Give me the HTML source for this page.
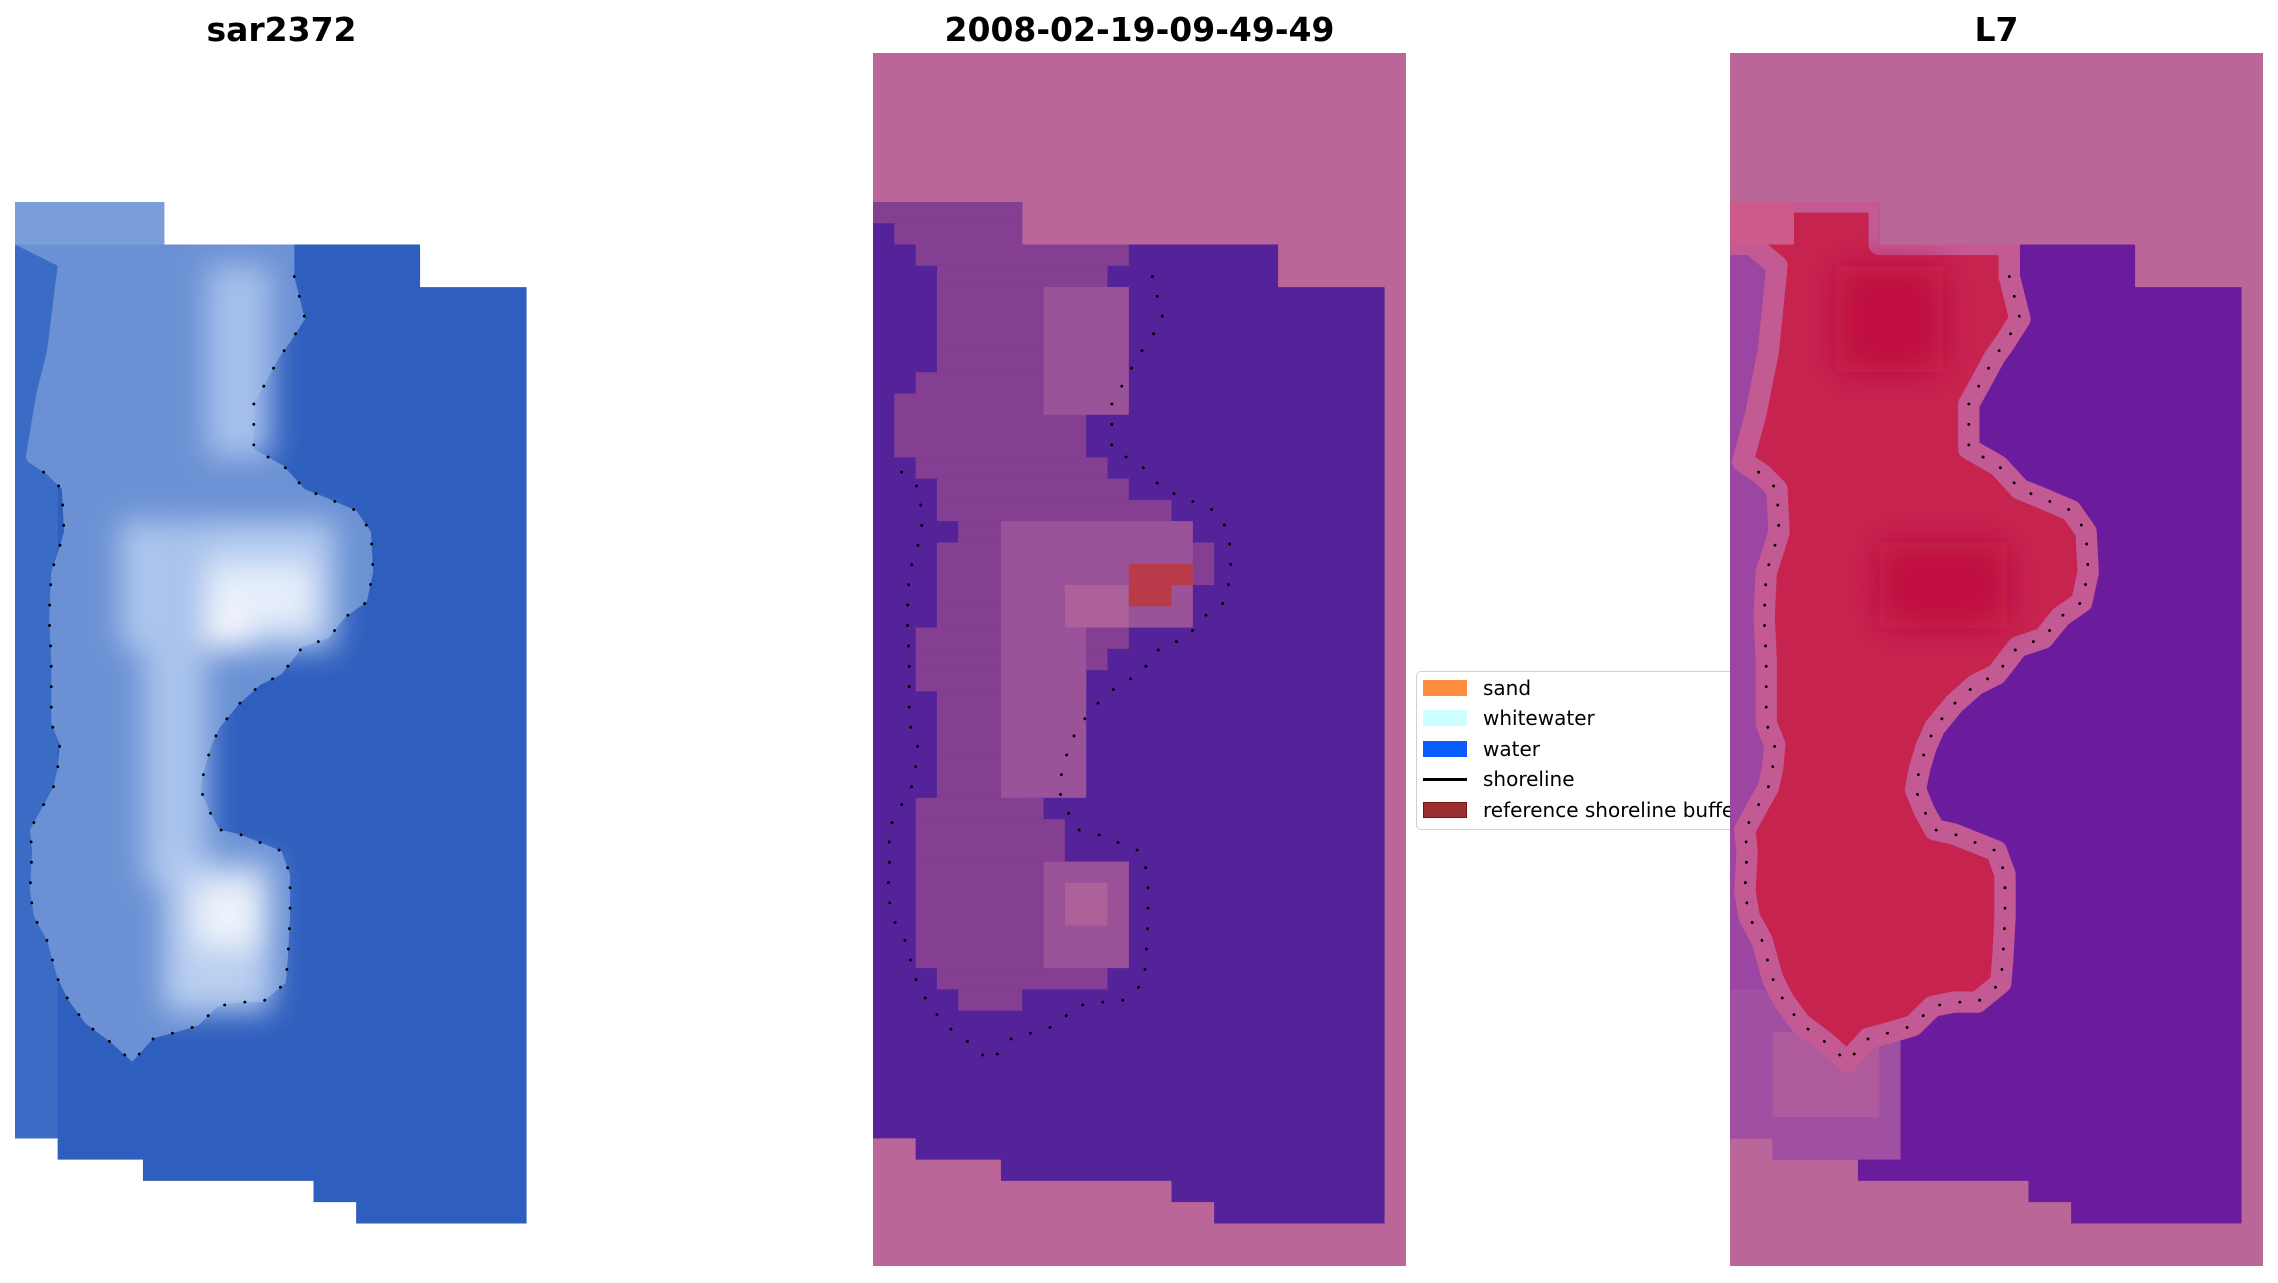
<!DOCTYPE html>
<html><head><meta charset="utf-8">
<style>
body{margin:0;width:2278px;height:1283px;background:#fff;position:relative;overflow:hidden;font-family:"DejaVu Sans","Liberation Sans",sans-serif;}
.t{position:absolute;top:13px;width:533px;text-align:center;font-weight:bold;font-size:33px;line-height:1;color:#000;}
svg.p{position:absolute;top:53px;width:533px;height:1213px;}
.leg{position:absolute;left:1416px;top:671px;width:420px;height:157px;border:1.5px solid #d0d0d0;border-radius:5px;background:#fff;}
.it{position:absolute;left:1483px;font-size:20px;line-height:1;color:#000;}
.pt{position:absolute;left:1423px;width:44px;height:16px;}
</style></head><body>

<div class="t" style="left:15px">sar2372</div>
<div class="t" style="left:873px">2008-02-19-09-49-49</div>
<div class="t" style="left:1730px">L7</div>

<svg width="0" height="0" style="position:absolute">
<defs>
<clipPath id="dr"><polygon points="0,7 7,7 7,9 19,9 19,11 24,11 24,55 16,55 16,54 14,54 14,53 6,53 6,52 2,52 2,51 0,51"/></clipPath>
<filter id="bl" x="-20%" y="-20%" width="140%" height="140%"><feGaussianBlur stdDeviation="0.7"/></filter>
</defs>
</svg>

<!-- Panel 1 -->
<svg class="p" style="left:15px" viewBox="0 0 25 57" preserveAspectRatio="none">
<defs><clipPath id="d1"><polygon points="0,7 7,7 7,9 19,9 19,11 24,11 24,55 16,55 16,54 14,54 14,53 6,53 6,52 2,52 2,51 0,51"/></clipPath>
<filter id="b1" x="-20%" y="-20%" width="140%" height="140%"><feGaussianBlur stdDeviation="0.7"/></filter></defs>
<g clip-path="url(#d1)">
<rect x="0" y="0" width="25" height="57" fill="#2f5fbe"/>
<rect x="0" y="7" width="2" height="45" fill="#3a6cc6"/>
<polygon fill="#6b91d4" points="13.1,9 13.1,10.5 13.6,12.5 12.9,13.6 12.4,14.3 11.7,15.6 11.2,16.5 11.2,17.5 11.2,18.6 12.6,19.4 13.6,20.5 14.6,20.9 16,21.5 16.7,22.5 16.8,24.4 16.5,25.8 15.5,26.5 14.7,27.5 13.5,27.9 12.5,29.2 11.5,29.7 10.5,30.6 9.6,31.7 9.2,32.6 8.9,33.6 8.7,34.6 9.1,35.6 9.6,36.5 10.5,36.7 11.5,37.1 12.5,37.5 12.9,38.6 12.9,40.6 12.8,42.5 12.7,43.7 11.6,44.6 10.5,44.6 9.5,44.8 8.6,45.7 7.6,46 6.5,46.3 5.5,47.4 4.5,46.5 3.3,45.6 2.5,44.5 2,43.5 1.5,41.7 0.9,40.6 0.7,39.4 0.8,37.5 0.7,36.5 1.3,35.4 1.8,34.5 2,33.6 2.1,32.5 1.7,31.5 1.7,30.5 1.7,28.5 1.6,26.5 1.7,24.4 2,23.5 2.3,22.5 2.2,20.5 1.5,19.8 0.6,19.2 0.5,19 1,16 1.5,14 2,10 0,9 0,7 7,7 7,9"/>
<rect x="0" y="7" width="7" height="2" fill="#7a9ed8"/>
<g filter="url(#b1)">
<rect x="9" y="10" width="3" height="9" fill="#a6c0ec"/>
<rect x="5" y="22" width="10" height="6" fill="#b2cbef"/>
<rect x="6" y="22" width="3" height="17" fill="#a9c3ec"/>
<rect x="9" y="24" width="5" height="3" fill="#e6eefb"/>
<rect x="9" y="26" width="2" height="2" fill="#f4f6fd"/>
<rect x="7" y="38" width="5" height="7" fill="#b9cff0"/>
<rect x="8.5" y="39" width="3" height="3" fill="#eef3fb"/>
</g>
</g>
<polyline fill="none" stroke="#000" stroke-width="0.13" stroke-linecap="round" stroke-dasharray="0.01 0.95" points="13.1,10.5 13.6,12.5 12.9,13.6 12.4,14.3 11.7,15.6 11.2,16.5 11.2,17.5 11.2,18.6 12.6,19.4 13.6,20.5 14.6,20.9 16,21.5 16.7,22.5 16.8,24.4 16.5,25.8 15.5,26.5 14.7,27.5 13.5,27.9 12.5,29.2 11.5,29.7 10.5,30.6 9.6,31.7 9.2,32.6 8.9,33.6 8.7,34.6 9.1,35.6 9.6,36.5 10.5,36.7 11.5,37.1 12.5,37.5 12.9,38.6 12.9,40.6 12.8,42.5 12.7,43.7 11.6,44.6 10.5,44.6 9.5,44.8 8.6,45.7 7.6,46 6.5,46.3 5.5,47.4 4.5,46.5 3.3,45.6 2.5,44.5 2,43.5 1.5,41.7 0.9,40.6 0.7,39.4 0.8,37.5 0.7,36.5 1.3,35.4 1.8,34.5 2,33.6 2.1,32.5 1.7,31.5 1.7,30.5 1.7,28.5 1.6,26.5 1.7,24.4 2,23.5 2.3,22.5 2.2,20.5 1.5,19.8 0.6,19.2"/>
</svg>

<!-- Panel 2 -->
<svg class="p" style="left:873px" viewBox="0 0 25 57" preserveAspectRatio="none">
<defs><clipPath id="d2"><polygon points="0,7 7,7 7,9 19,9 19,11 24,11 24,55 16,55 16,54 14,54 14,53 6,53 6,52 2,52 2,51 0,51"/></clipPath></defs>
<rect x="0" y="0" width="25" height="57" fill="#bb6699"/>
<g clip-path="url(#d2)">
<rect x="0" y="0" width="25" height="57" fill="#54239a"/>
<g fill="#853f92">
<rect x="0" y="7" width="7" height="1"/><rect x="1" y="8" width="6" height="1"/>
<rect x="2" y="9" width="10" height="1"/><rect x="3" y="10" width="8" height="1"/>
<rect x="3" y="11" width="9" height="3"/><rect x="3" y="14" width="8" height="1"/>
<rect x="2" y="15" width="9" height="1"/><rect x="1" y="16" width="9" height="3"/>
<rect x="2" y="19" width="9" height="1"/><rect x="3" y="20" width="9" height="1"/>
<rect x="3" y="21" width="11" height="1"/><rect x="4" y="22" width="11" height="1"/>
<rect x="3" y="23" width="13" height="2"/><rect x="3" y="25" width="12" height="1"/>
<rect x="3" y="26" width="9" height="1"/><rect x="2" y="27" width="10" height="1"/>
<rect x="2" y="28" width="9" height="1"/><rect x="2" y="29" width="8" height="1"/>
<rect x="3" y="30" width="6" height="2"/><rect x="3" y="32" width="5" height="1"/>
<rect x="3" y="33" width="4" height="2"/><rect x="2" y="35" width="6" height="1"/>
<rect x="2" y="36" width="7" height="2"/><rect x="2" y="38" width="10" height="5"/>
<rect x="3" y="43" width="8" height="1"/><rect x="4" y="44" width="3" height="1"/>
</g>
<g fill="#9a5299">
<rect x="8" y="11" width="4" height="6"/>
<rect x="6" y="22" width="9" height="5"/>
<rect x="6" y="27" width="4" height="8"/>
<rect x="8" y="38" width="4" height="5"/>
</g>
<g fill="#ad6199">
<rect x="9" y="25" width="3" height="2"/>
<rect x="9" y="39" width="2" height="2"/>
</g>
<rect x="12" y="24" width="3" height="1" fill="#b93a48"/>
<rect x="12" y="25" width="2" height="1" fill="#b93a48"/>
</g>
<polyline fill="none" stroke="#000" stroke-width="0.13" stroke-linecap="round" stroke-dasharray="0.01 0.95" points="13.1,10.5 13.6,12.5 12.9,13.6 12.4,14.3 11.7,15.6 11.2,16.5 11.2,17.5 11.2,18.6 12.6,19.4 13.6,20.5 14.6,20.9 16,21.5 16.7,22.5 16.8,24.4 16.5,25.8 15.5,26.5 14.7,27.5 13.5,27.9 12.5,29.2 11.5,29.7 10.5,30.6 9.6,31.7 9.2,32.6 8.9,33.6 8.7,34.6 9.1,35.6 9.6,36.5 10.5,36.7 11.5,37.1 12.5,37.5 12.9,38.6 12.9,40.6 12.8,42.5 12.7,43.7 11.6,44.6 10.5,44.6 9.5,44.8 8.6,45.7 7.6,46 6.5,46.3 5.5,47.4 4.5,46.5 3.3,45.6 2.5,44.5 2,43.5 1.5,41.7 0.9,40.6 0.7,39.4 0.8,37.5 0.7,36.5 1.3,35.4 1.8,34.5 2,33.6 2.1,32.5 1.7,31.5 1.7,30.5 1.7,28.5 1.6,26.5 1.7,24.4 2,23.5 2.3,22.5 2.2,20.5 1.5,19.8 0.6,19.2"/>
</svg>

<!-- Legend -->
<div class="leg"></div>
<div class="pt" style="top:680px;background:#ff8c3f"></div>
<div class="pt" style="top:710px;background:#ccffff"></div>
<div class="pt" style="top:741px;background:#0a5cff"></div>
<div class="pt" style="top:778px;height:3px;background:#000"></div>
<div class="pt" style="top:802px;background:#9a3030;border:1px solid #7a1010;box-sizing:border-box"></div>
<div class="it" style="top:678px">sand</div>
<div class="it" style="top:708px">whitewater</div>
<div class="it" style="top:739px">water</div>
<div class="it" style="top:769px">shoreline</div>
<div class="it" style="top:800px">reference shoreline buffer</div>

<!-- Panel 3 -->
<svg class="p" style="left:1730px;z-index:2" viewBox="0 0 25 57" preserveAspectRatio="none">
<defs><clipPath id="d3"><polygon points="0,7 7,7 7,9 19,9 19,11 24,11 24,55 16,55 16,54 14,54 14,53 6,53 6,52 2,52 2,51 0,51"/></clipPath>
<filter id="b3" x="-20%" y="-20%" width="140%" height="140%"><feGaussianBlur stdDeviation="0.8"/></filter></defs>
<rect x="0" y="0" width="25" height="57" fill="#bb6699"/>
<g clip-path="url(#d3)">
<rect x="0" y="0" width="25" height="57" fill="#6a1c9c"/>
<rect x="0" y="9" width="2" height="43" fill="#9a46a2"/>
<rect x="0" y="44" width="8" height="8" fill="#a050a2"/>
<rect x="2" y="46" width="5" height="4" fill="#b05a9e"/>
<polygon fill="#c6244f" stroke="#c45a94" stroke-width="1.0" stroke-linejoin="round" points="13.1,9 13.1,10.5 13.6,12.5 12.9,13.6 12.4,14.3 11.7,15.6 11.2,16.5 11.2,17.5 11.2,18.6 12.6,19.4 13.6,20.5 14.6,20.9 16,21.5 16.7,22.5 16.8,24.4 16.5,25.8 15.5,26.5 14.7,27.5 13.5,27.9 12.5,29.2 11.5,29.7 10.5,30.6 9.6,31.7 9.2,32.6 8.9,33.6 8.7,34.6 9.1,35.6 9.6,36.5 10.5,36.7 11.5,37.1 12.5,37.5 12.9,38.6 12.9,40.6 12.8,42.5 12.7,43.7 11.6,44.6 10.5,44.6 9.5,44.8 8.6,45.7 7.6,46 6.5,46.3 5.5,47.4 4.5,46.5 3.3,45.6 2.5,44.5 2,43.5 1.5,41.7 0.9,40.6 0.7,39.4 0.8,37.5 0.7,36.5 1.3,35.4 1.8,34.5 2,33.6 2.1,32.5 1.7,31.5 1.7,30.5 1.7,28.5 1.6,26.5 1.7,24.4 2,23.5 2.3,22.5 2.2,20.5 1.5,19.8 0.6,19.2 1.2,17 1.8,14 2.2,10 1,9 0,9 0,7 7,7 7,9"/>
<rect x="0" y="7" width="3" height="2" fill="#cc5a8a"/>
<g filter="url(#b3)">
<rect x="5" y="10" width="5" height="5" fill="#c00a40"/>
<rect x="7" y="23" width="6" height="4" fill="#c00a40"/>
</g>
</g>
<polyline fill="none" stroke="#000" stroke-width="0.13" stroke-linecap="round" stroke-dasharray="0.01 0.95" points="13.1,10.5 13.6,12.5 12.9,13.6 12.4,14.3 11.7,15.6 11.2,16.5 11.2,17.5 11.2,18.6 12.6,19.4 13.6,20.5 14.6,20.9 16,21.5 16.7,22.5 16.8,24.4 16.5,25.8 15.5,26.5 14.7,27.5 13.5,27.9 12.5,29.2 11.5,29.7 10.5,30.6 9.6,31.7 9.2,32.6 8.9,33.6 8.7,34.6 9.1,35.6 9.6,36.5 10.5,36.7 11.5,37.1 12.5,37.5 12.9,38.6 12.9,40.6 12.8,42.5 12.7,43.7 11.6,44.6 10.5,44.6 9.5,44.8 8.6,45.7 7.6,46 6.5,46.3 5.5,47.4 4.5,46.5 3.3,45.6 2.5,44.5 2,43.5 1.5,41.7 0.9,40.6 0.7,39.4 0.8,37.5 0.7,36.5 1.3,35.4 1.8,34.5 2,33.6 2.1,32.5 1.7,31.5 1.7,30.5 1.7,28.5 1.6,26.5 1.7,24.4 2,23.5 2.3,22.5 2.2,20.5 1.5,19.8 0.6,19.2"/>
</svg>

</body></html>
